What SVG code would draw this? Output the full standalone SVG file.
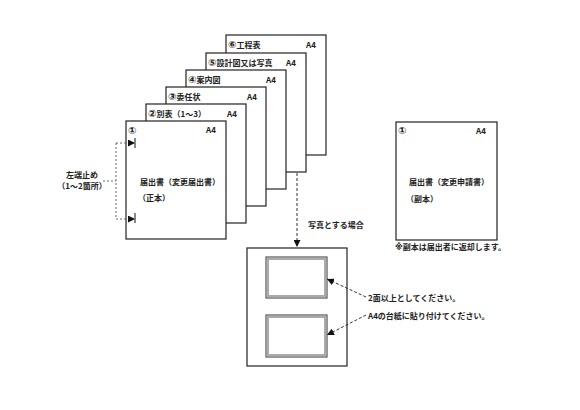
<svg xmlns="http://www.w3.org/2000/svg" width="580" height="410" viewBox="0 0 580 410">
<style>
.pg{fill:#fff;stroke:#222;stroke-width:1.2}
.t{font-family:"Noto Sans CJK JP","Noto Sans",sans-serif;font-weight:bold;font-size:8px;fill:#222;font-variant-emoji:text}
.s{font-family:"DejaVu Sans","Noto Sans CJK JP",sans-serif;font-weight:bold;font-size:10px;fill:#222;font-variant-emoji:text}
.d{fill:none;stroke:#333;stroke-width:1;stroke-dasharray:3,2}
.dg{fill:none;stroke:#666;stroke-width:1;stroke-dasharray:2,2}
</style>
<defs>
<marker id="ah" viewBox="0 0 10 10" refX="10" refY="5" markerWidth="7" markerHeight="7" markerUnits="userSpaceOnUse" orient="auto">
<path d="M0,0 L10,5 L0,10 z" fill="#111"/>
</marker>
</defs>
<rect width="580" height="410" fill="#fff"/>
<g id="page6"><rect class="pg" x="226" y="35" width="100" height="120"/><text class="t" x="228" y="48"><tspan class="s">⑥</tspan>工程表</text><text class="t" x="306" y="48">A4</text></g>
<g id="page5"><rect class="pg" x="206" y="53" width="100" height="119"/><text class="t" x="208" y="66"><tspan class="s">⑤</tspan>設計図又は写真</text><text class="t" x="286" y="66">A4</text></g>
<g id="page4"><rect class="pg" x="186" y="70" width="100" height="119"/><text class="t" x="188" y="83"><tspan class="s">④</tspan>案内図</text><text class="t" x="266" y="83">A4</text></g>
<g id="page3"><rect class="pg" x="166" y="87" width="100" height="119"/><text class="t" x="168" y="100"><tspan class="s">③</tspan>委任状</text><text class="t" x="247" y="100">A4</text></g>
<g id="page2"><rect class="pg" x="146" y="104" width="100" height="119"/><text class="t" x="148" y="117"><tspan class="s">②</tspan>別表（1～3）</text><text class="t" x="227" y="117">A4</text></g>
<g id="page1"><rect class="pg" x="126" y="121" width="100" height="118"/><text class="t" x="128" y="134"><tspan class="s">①</tspan></text><text class="t" x="206" y="133">A4</text><text class="t" x="140" y="185">届出書（変更届出書）</text><text class="t" x="138" y="201">（正本）</text>
<path d="M135,138 V148 M135,213 V223" stroke="#111" stroke-width="1"/></g>
<g id="copy"><rect class="pg" x="396" y="122" width="101" height="118"/><text class="t" x="398" y="134"><tspan class="s">①</tspan></text><text class="t" x="476" y="134">A4</text><text class="t" x="409" y="185">届出書（変更申請書）</text><text class="t" x="406" y="202">（副本）</text></g>
<g id="note"><text class="t" x="395" y="250"><tspan class="s" style="font-size:8px">※</tspan>副本は届出者に返却します。</text></g>
<g id="label-left"><text class="t" x="82" y="178" text-anchor="middle">左端止め</text><text class="t" x="82" y="189" text-anchor="middle">（1～2箇所）</text></g>
<g id="label-photo"><text class="t" x="308" y="228">写真とする場合</text></g>
<g id="mount"><rect class="pg" x="247" y="248" width="100" height="118"/>
<rect x="266" y="257" width="61" height="41" fill="#fff" stroke="#333" stroke-width="1"/><rect x="268" y="259" width="57" height="37" fill="none" stroke="#aaa" stroke-width="2"/>
<rect x="266" y="315" width="61" height="42" fill="#fff" stroke="#333" stroke-width="1"/><rect x="268" y="317" width="57" height="38" fill="none" stroke="#aaa" stroke-width="2"/></g>
<g id="labels-right"><text class="t" x="368" y="301">2面以上としてください。</text><text class="t" x="368" y="319">A4の台紙に貼り付けてください。</text></g>
<g id="connectors">
<path class="dg" d="M103,181 H116 M116,143 V219"/>
<path class="dg" d="M116,143 H135" marker-end="url(#ah)"/>
<path class="dg" d="M116,219 H135" marker-end="url(#ah)"/>
<path class="d" d="M297,173 V247" marker-end="url(#ah)"/>
<path class="d" d="M366,297 L327,279" marker-end="url(#ah)"/>
<path class="d" d="M366,315 L327,335" marker-end="url(#ah)"/>
</g>
</svg>
